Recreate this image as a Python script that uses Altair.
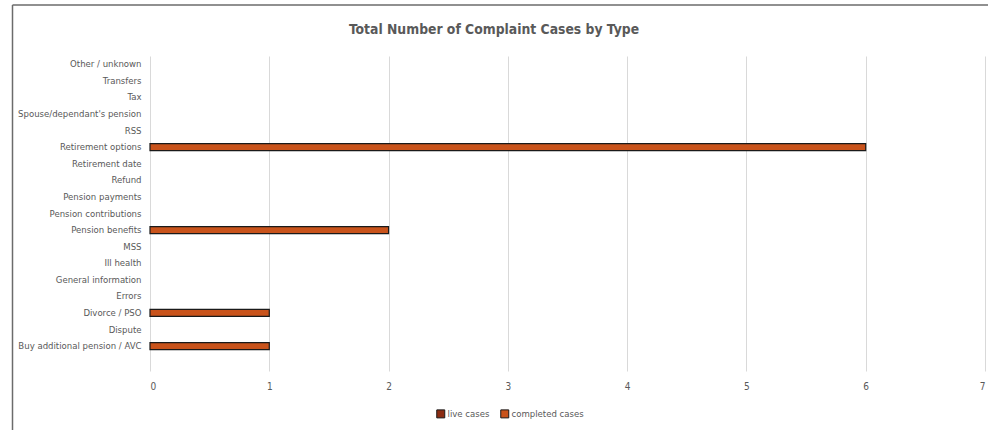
import altair as alt
import pandas as pd

# Complaint categories, top to bottom as listed on the axis
categories = [
    "Other / unknown",
    "Transfers",
    "Tax",
    "Spouse/dependant's pension",
    "RSS",
    "Retirement options",
    "Retirement date",
    "Refund",
    "Pension payments",
    "Pension contributions",
    "Pension benefits",
    "MSS",
    "Ill health",
    "General information",
    "Errors",
    "Divorce / PSO",
    "Dispute",
    "Buy additional pension / AVC",
]
live_cases = [0, 0, 0, 0, 0, 0, 0, 0, 0, 0, 0, 0, 0, 0, 0, 0, 0, 0]
completed_cases = [0, 0, 0, 0, 0, 6, 0, 0, 0, 0, 2, 0, 0, 0, 0, 1, 0, 1]
series_names = ["live cases", "completed cases"]
series_colors = ["#8B2C12", "#C9531B"]
x_ticks = [0, 1, 2, 3, 4, 5, 6, 7]
chart_title = "Total Number of Complaint Cases by Type"

rows = []
for cat, live, done in zip(categories, live_cases, completed_cases):
    rows.append({"type": cat, "series": series_names[0], "cases": live})
    rows.append({"type": cat, "series": series_names[1], "cases": done})
df = pd.DataFrame(rows)

FONT = "Liberation Sans Narrow, DejaVu Sans Condensed, sans-serif"
TEXT = "#595959"

bars = (
    alt.Chart(df)
    .transform_filter(alt.datum.cases > 0)
    .mark_bar(size=7, stroke="#1a1a1a", strokeWidth=1.2)
    .encode(
        x=alt.X(
            "cases:Q",
            scale=alt.Scale(domain=[0, 7], nice=False, zero=True),
            axis=alt.Axis(
                values=x_ticks,
                title=None,
                grid=True,
                gridColor="#D9D9D9",
                gridWidth=1,
                domain=False,
                ticks=False,
                labelPadding=10,
                labelFontSize=10,
                labelColor=TEXT,
                labelFont=FONT,
            ),
        ),
        y=alt.Y(
            "type:N",
            sort=categories,
            scale=alt.Scale(
                domain=categories, paddingInner=0, paddingOuter=0.5, align=0
            ),
            axis=alt.Axis(
                title=None,
                domain=False,
                ticks=False,
                grid=False,
                labelPadding=9,
                labelFontSize=9.5,
                labelColor=TEXT,
                labelFont=FONT,
                labelLimit=300,
            ),
        ),
        color=alt.Color(
            "series:N",
            scale=alt.Scale(domain=series_names, range=series_colors),
            legend=alt.Legend(
                title=None,
                orient="none",
                direction="horizontal",
                legendX=286,
                legendY=353,
                symbolType="square",
                symbolSize=64,
                symbolStrokeColor="#1a1a1a",
                symbolStrokeWidth=1,
                labelFontSize=9.5,
                labelColor=TEXT,
                labelFont=FONT,
                labelOffset=2,
                columnPadding=8,
            ),
        ),
    )
)

# Chart heading, centred on the whole chart box
heading = alt.Chart(pd.DataFrame({"label": [chart_title]})).mark_text(
    fontSize=13.8,
    fontWeight=600,
    color=TEXT,
    font=FONT,
    align="center",
    baseline="alphabetic",
).encode(text="label:N", x=alt.value(344), y=alt.value(-22))

# Outer frame lines (left and top edges of the chart box)
frame_left = alt.Chart(pd.DataFrame({"k": [0]})).mark_rule(
    color="#6b6b6b", strokeWidth=1.5, clip=False
).encode(x=alt.value(-137.5), y=alt.value(-51), y2=alt.value(380))
frame_top = alt.Chart(pd.DataFrame({"k": [0]})).mark_rule(
    color="#6b6b6b", strokeWidth=1.5, clip=False
).encode(x=alt.value(-137.5), x2=alt.value(840), y=alt.value(-51))

chart = (
    alt.layer(bars, heading, frame_left, frame_top)
    .properties(
        width=835,
        height=315,
        background="white",
        autosize=alt.AutoSizeParams(type="none"),
        padding={"left": 150, "top": 56, "right": 3, "bottom": 59},
    )
    .configure_view(stroke=None)
)

chart.save("out.html", embed_options={"renderer": "svg", "actions": False})
